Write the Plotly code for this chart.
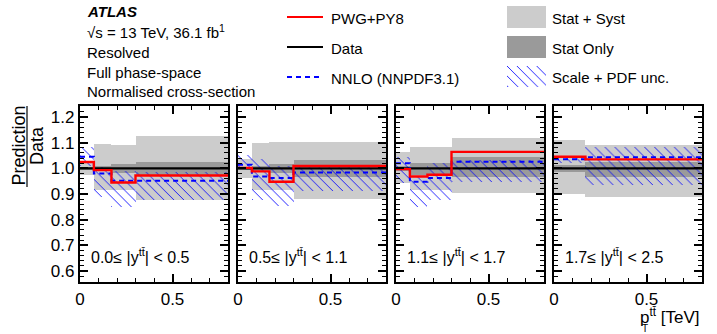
import plotly.graph_objects as go

# ---------------- data ----------------
edges_a = [0.0, 0.075, 0.17, 0.3, 0.8]
edges_b = [0.0, 0.17, 0.8]
panel_edges = [edges_a, edges_a, edges_a, edges_b]

panel_labels = ["0.0\u2264 |y<sup>tt\u0304</sup>| &lt; 0.5",
                "0.5\u2264 |y<sup>tt\u0304</sup>| &lt; 1.1",
                "1.1\u2264 |y<sup>tt\u0304</sup>| &lt; 1.7",
                "1.7\u2264 |y<sup>tt\u0304</sup>| &lt; 2.5"]

pwg = [[1.025, 0.993, 0.945, 0.972],
       [1.002, 0.988, 0.948, 1.009],
       [0.997, 0.968, 0.975, 1.064],
       [1.045, 1.035]]
nnlo = [[1.045, 0.980, 0.952, 0.952],
        [1.014, 0.968, 0.962, 0.984],
        [1.020, 0.948, 0.962, 1.026],
        [1.035, 1.043]]
nnlo_lo = [[1.010, 0.888, 0.850, 0.877],
           [1.005, 0.877, 0.855, 0.910],
           [0.942, 0.851, 0.877, 0.948],
           [1.020, 0.935]]
nnlo_hi = [[1.085, 1.005, 0.990, 0.985],
           [1.053, 1.035, 1.010, 1.006],
           [1.045, 0.965, 1.019, 1.032],
           [1.045, 1.084]]
tot_lo = [[0.975, 0.915, 0.915, 0.878],
          [0.962, 0.915, 0.915, 0.881],
          [0.944, 0.915, 0.915, 0.903],
          [0.900, 0.888]]
tot_hi = [[1.030, 1.094, 1.090, 1.128],
          [1.035, 1.098, 1.104, 1.102],
          [1.064, 1.084, 1.084, 1.119],
          [1.112, 1.090]]
stat_lo = [[0.995, 0.990, 0.983, 0.975],
           [0.995, 0.990, 0.983, 0.968],
           [0.990, 0.975, 0.975, 0.965],
           [0.985, 0.968]]
stat_hi = [[1.005, 1.010, 1.017, 1.025],
           [1.005, 1.010, 1.017, 1.032],
           [1.010, 1.022, 1.022, 1.045],
           [1.015, 1.026]]

W, H = 717, 334
FONT = "Liberation Sans, Arial, Helvetica, sans-serif"
LIGHT = "#cccccc"
DARK = "#9a9a9a"
BLUE = "#0000ff"
HATCH = dict(shape="\\", fgcolor=BLUE, bgcolor="rgba(0,0,0,0)",
             size=7, solidity=0.12, fillmode="replace")

def px(x):
    return x / W

def py(y):
    return 1 - y / H

panel_px = [(80, 228), (238, 386), (396, 544), (554, 702)]
ydom = [py(282), py(106)]

fig = go.Figure()

for i in range(4):
    e = panel_edges[i]
    centers = [(e[k] + e[k + 1]) / 2 for k in range(len(e) - 1)]
    widths = [e[k + 1] - e[k] for k in range(len(e) - 1)]
    xa = "x" if i == 0 else f"x{i+1}"
    ya = "y" if i == 0 else f"y{i+1}"
    # Stat + Syst
    fig.add_trace(go.Bar(x=centers, width=widths, base=tot_lo[i],
                         y=[h - l for h, l in zip(tot_hi[i], tot_lo[i])],
                         marker=dict(color=LIGHT, line=dict(width=0)),
                         xaxis=xa, yaxis=ya, showlegend=False))
    # Stat only
    fig.add_trace(go.Bar(x=centers, width=widths, base=stat_lo[i],
                         y=[h - l for h, l in zip(stat_hi[i], stat_lo[i])],
                         marker=dict(color=DARK, line=dict(width=0)),
                         xaxis=xa, yaxis=ya, showlegend=False))
    # Scale + PDF hatch
    fig.add_trace(go.Bar(x=centers, width=widths, base=nnlo_lo[i],
                         y=[h - l for h, l in zip(nnlo_hi[i], nnlo_lo[i])],
                         marker=dict(color="rgba(0,0,0,0)", line=dict(width=0), pattern=HATCH),
                         xaxis=xa, yaxis=ya, showlegend=False))
    # Data
    fig.add_trace(go.Scatter(x=e, y=[1.0] * len(e), mode="lines",
                             line=dict(color="black", width=2.2, shape="hv"),
                             xaxis=xa, yaxis=ya, showlegend=False))
    # NNLO
    fig.add_trace(go.Scatter(x=e, y=nnlo[i] + [nnlo[i][-1]], mode="lines",
                             line=dict(color=BLUE, width=2, dash="5px,4px", shape="hv"),
                             xaxis=xa, yaxis=ya, showlegend=False))
    # PWG+PY8
    fig.add_trace(go.Scatter(x=e, y=pwg[i] + [pwg[i][-1]], mode="lines",
                             line=dict(color="red", width=2.4, shape="hv"),
                             xaxis=xa, yaxis=ya, showlegend=False))

layout = dict(
    width=W, height=H, autosize=False,
    margin=dict(l=0, r=0, t=0, b=0, autoexpand=False),
    paper_bgcolor="white", plot_bgcolor="white",
    barmode="overlay", bargap=0,
    font=dict(family=FONT, color="black", size=15),
    showlegend=False,
)
for i in range(4):
    xk = "xaxis" if i == 0 else f"xaxis{i+1}"
    yk = "yaxis" if i == 0 else f"yaxis{i+1}"
    yname = "y" if i == 0 else f"y{i+1}"
    xname = "x" if i == 0 else f"x{i+1}"
    layout[xk] = dict(domain=[px(panel_px[i][0]), px(panel_px[i][1])],
                      range=[0, 0.8], anchor=yname, automargin=False,
                      showgrid=False, zeroline=False,
                      showline=True, linewidth=2.2, linecolor="black", mirror="ticks",
                      ticks="inside", ticklen=8, tickwidth=1.5, tickcolor="black",
                      tickvals=[0, 0.5], ticktext=["0", "0.5"],
                      tickfont=dict(size=17, family=FONT),
                      minor=dict(dtick=0.1, ticklen=4, tickwidth=1.2, tickcolor="black", ticks="inside"),
                      fixedrange=True)
    layout[yk] = dict(domain=ydom, range=[0.557, 1.243], anchor=xname, automargin=False,
                      showgrid=False, zeroline=False,
                      showline=True, linewidth=2.2, linecolor="black", mirror="ticks",
                      ticks="inside", ticklen=8, tickwidth=1.5, tickcolor="black",
                      tick0=0.6, dtick=0.1, tickformat=".1f",
                      showticklabels=(i == 0),
                      tickfont=dict(size=17, family=FONT),
                      minor=dict(dtick=0.02, ticklen=4, tickwidth=1.2, tickcolor="black", ticks="inside"),
                      fixedrange=True)

# legend hatch swatch axis
layout["xaxis5"] = dict(domain=[px(507), px(546)], range=[0, 1], anchor="y5", visible=False,
                        automargin=False, fixedrange=True)
layout["yaxis5"] = dict(domain=[py(87), py(66)], range=[0, 1], anchor="x5", visible=False,
                        automargin=False, fixedrange=True)
fig.add_trace(go.Bar(x=[0.5], y=[1], base=[0], width=[1],
                     marker=dict(color="rgba(0,0,0,0)", line=dict(width=0), pattern=HATCH),
                     xaxis="x5", yaxis="y5", showlegend=False))

fig.update_layout(**layout)

shapes = []
annots = []

def ann(text, x, y, size=15, xanchor="left", yanchor="middle", **kw):
    annots.append(dict(text=text, x=px(x), y=py(y), xref="paper", yref="paper",
                       xanchor=xanchor, yanchor=yanchor, showarrow=False,
                       font=dict(size=size, family=FONT, color="black"), **kw))

# top-left text block
ann("<b><i>ATLAS</i></b>", 85, 12, size=15)
ann("\u221as = 13 TeV, 36.1 fb<sup>1</sup>", 85, 31, size=15)
ann("Resolved", 85, 52, size=15)
ann("Full phase-space", 85, 72, size=15)
ann("Normalised cross-section", 85, 92, size=15)

# legend, left column
for yy, col, dash, label in [(17, "red", "solid", "PWG+PY8"),
                             (47, "black", "solid", "Data"),
                             (77, BLUE, "5px,4px", "NNLO (NNPDF3.1)")]:
    shapes.append(dict(type="line", xref="paper", yref="paper",
                       x0=px(287), x1=px(323), y0=py(yy), y1=py(yy),
                       line=dict(color=col, width=2, dash=dash)))
    ann(label, 329, yy + 1.5, size=15)

# legend, right column
for (y0, y1, col) in [(6, 28, LIGHT), (36, 58, DARK)]:
    shapes.append(dict(type="rect", xref="paper", yref="paper",
                       x0=px(507), x1=px(546), y0=py(y1), y1=py(y0),
                       fillcolor=col, line=dict(width=0)))
ann("Stat + Syst", 550, 19, size=15)
ann("Stat Only", 550, 48, size=15)
ann("Scale + PDF unc.", 550, 78, size=15)

# y axis title as a fraction
ann("Prediction", 18.5, 146, size=18, xanchor="center", textangle=-90)
ann("Data", 37, 146, size=18, xanchor="center", textangle=-90)
shapes.append(dict(type="line", xref="paper", yref="paper",
                   x0=px(27), x1=px(27), y0=py(187), y1=py(106),
                   line=dict(color="black", width=1.2)))

# panel labels
for i in range(4):
    xname = "x" if i == 0 else f"x{i+1}"
    yname = "y" if i == 0 else f"y{i+1}"
    annots.append(dict(text=panel_labels[i], xref=f"{xname} domain", yref=f"{yname} domain",
                       x=0.06, y=0.145, xanchor="left", yanchor="middle", showarrow=False,
                       font=dict(size=16, family=FONT, color="black")))

# x axis title
ann("p<sup>tt\u0304</sup> [TeV]", 702, 316, size=17, xanchor="right")
ann("T", 645, 328, size=10, xanchor="center")

fig.update_layout(shapes=shapes, annotations=annots)
fig.write_html("out.html", config={"displayModeBar": False},
               post_script="document.body.style.margin='0';document.body.style.padding='0';")
